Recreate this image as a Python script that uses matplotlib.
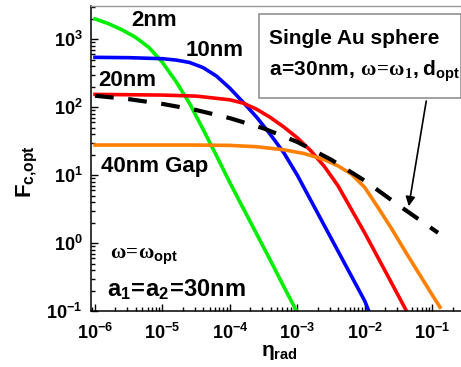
import numpy as np
import matplotlib
matplotlib.use('Agg')
import matplotlib.pyplot as plt
from matplotlib.patches import Rectangle, FancyArrowPatch
from matplotlib.ticker import FixedLocator, FixedFormatter, LogLocator, NullFormatter

plt.rcParams['font.family'] = 'Liberation Sans'
plt.rcParams['font.weight'] = 'bold'
plt.rcParams['mathtext.fontset'] = 'custom'
plt.rcParams['mathtext.rm'] = 'Liberation Sans:bold'
plt.rcParams['mathtext.bf'] = 'Liberation Sans:bold'
plt.rcParams['mathtext.it'] = 'Liberation Serif'
plt.rcParams['mathtext.sf'] = 'Liberation Serif'

# curves, as log10(eta_rad) and log10(F_c,opt)
log_eta_2nm = [-6.0, -5.8, -5.6, -5.4, -5.2, -5.0, -4.8, -4.6, -4.4, -4.2, -4.0, -3.8, -3.6, -3.4, -3.2, -3.01]
log_F_2nm = [3.30, 3.23, 3.14, 3.03, 2.88, 2.66, 2.38, 2.06, 1.68, 1.29, 0.89, 0.51, 0.13, -0.25, -0.64, -1.0]

log_eta_10nm = [-6.0, -5.5, -5.0, -4.8, -4.6, -4.4, -4.2, -4.0, -3.8, -3.6, -3.4, -3.2, -3.0, -2.8,
                -2.6, -2.4, -2.2, -2.0, -1.94]
log_F_10nm = [2.735, 2.73, 2.715, 2.695, 2.66, 2.585, 2.46, 2.28, 2.07, 1.85, 1.60, 1.33, 1.00, 0.63,
              0.26, -0.11, -0.48, -0.85, -1.0]

log_eta_20nm = [-6.0, -5.0, -4.5, -4.0, -3.8, -3.6, -3.4, -3.2, -3.0, -2.8, -2.6, -2.4, -2.2, -2.0,
                -1.8, -1.6, -1.38]
log_F_20nm = [2.19, 2.18, 2.165, 2.11, 2.06, 1.97, 1.85, 1.71, 1.55, 1.36, 1.13, 0.85, 0.50, 0.15,
              -0.22, -0.59, -1.0]

log_eta_40nm = [-6.0, -4.5, -4.0, -3.6, -3.2, -2.9, -2.6, -2.4, -2.2, -2.0, -1.8, -1.6, -1.4, -1.2,
                -1.0, -0.885]
log_F_40nm = [1.445, 1.445, 1.44, 1.42, 1.375, 1.32, 1.23, 1.14, 1.02, 0.82, 0.52, 0.21, -0.12, -0.44,
              -0.76, -0.94]

log_eta_single = [-6.0, -5.5, -5.0, -4.5, -4.0, -3.5, -3.0, -2.5, -2.0, -1.5, -0.915]
log_F_single = [2.17, 2.12, 2.05, 1.96, 1.84, 1.69, 1.49, 1.23, 0.92, 0.56, 0.155]

x_ticks = [1e-6, 1e-5, 1e-4, 1e-3, 1e-2, 1e-1]
x_labels = [r'$\mathrm{10^{-6}}$', r'$\mathrm{10^{-5}}$', r'$\mathrm{10^{-4}}$',
            r'$\mathrm{10^{-3}}$', r'$\mathrm{10^{-2}}$', r'$\mathrm{10^{-1}}$']
y_ticks = [1e-1, 1e0, 1e1, 1e2, 1e3]
y_labels = [r'$\mathrm{10^{-1}}$', r'$\mathrm{10^{0}}$', r'$\mathrm{10^{1}}$',
            r'$\mathrm{10^{2}}$', r'$\mathrm{10^{3}}$']

W, H = 461, 367
fig = plt.figure(figsize=(W / 100, H / 100), dpi=100)
ax = fig.add_axes([90.7 / W, 55.7 / H, 375.3 / W, 305.3 / H])


def px(x, y):
    return x / W, 1 - y / H


lw = 2.6
ax.plot(np.power(10.0, log_eta_2nm), np.power(10.0, log_F_2nm), color='#00ee00', lw=lw)
ax.plot(np.power(10.0, log_eta_10nm), np.power(10.0, log_F_10nm), color='#0000ff', lw=lw)
ax.plot(np.power(10.0, log_eta_20nm), np.power(10.0, log_F_20nm), color='#ff0000', lw=lw)
ax.plot(np.power(10.0, log_eta_40nm), np.power(10.0, log_F_40nm), color='#ff8000', lw=lw)
ax.plot(np.power(10.0, log_eta_single), np.power(10.0, log_F_single), color='black',
        lw=3.0, dashes=(4.5, 3.5))

ax.set_xscale('log')
ax.set_yscale('log')
ax.set_xlim(10 ** -6.064, 10 ** -0.5)
ax.set_ylim(0.1, 10 ** 3.49)

ax.xaxis.set_major_locator(FixedLocator(x_ticks))
ax.xaxis.set_major_formatter(FixedFormatter(x_labels))
ax.yaxis.set_major_locator(FixedLocator(y_ticks))
ax.yaxis.set_major_formatter(FixedFormatter(y_labels))
ax.xaxis.set_minor_locator(LogLocator(base=10, subs=np.arange(2, 10), numticks=20))
ax.yaxis.set_minor_locator(LogLocator(base=10, subs=np.arange(2, 10), numticks=20))
ax.xaxis.set_minor_formatter(NullFormatter())
ax.yaxis.set_minor_formatter(NullFormatter())
ax.tick_params(which='both', direction='in', top=False, right=False, width=1.0, labelsize=13)
ax.tick_params(which='major', length=5)
ax.tick_params(axis='x', which='major', pad=8)
ax.tick_params(axis='y', which='major', pad=6)
ax.tick_params(which='minor', length=3)
ax.spines['right'].set_visible(False)
for s in ['left', 'bottom']:
    ax.spines[s].set_linewidth(1.1)
ax.spines['top'].set_linewidth(1.0)
ax.spines['top'].set_color('#999999')

fig.text(*px(279, 352), r'$\mathrm{\eta}_{\mathrm{rad}}$', ha='center', va='center', fontsize=15)
fig.text(*px(27, 172), r'$\mathrm{F_{c{,}opt}}$', ha='center', va='center', fontsize=16, rotation=90)

fig.text(*px(154, 21), '2nm', ha='center', va='center', fontsize=16)
fig.text(*px(215, 51), '10nm', ha='center', va='center', fontsize=16)
fig.text(*px(127, 80), '20nm', ha='center', va='center', fontsize=16)
fig.text(*px(155, 167), '40nm Gap', ha='center', va='center', fontsize=16)
fig.text(*px(110, 257), r'$\mathsf{\omega\!=\!\omega}_{\mathrm{opt}}$', ha='left', va='center',
         fontsize=15)
fig.text(*px(107, 290), r'$\mathrm{a_{1}\!=\!a_{2}\!=\!30nm}$', ha='left', va='center', fontsize=17)

fig.patches.append(Rectangle(px(259.3, 98.3), (460.7 - 259.3) / W, (98.3 - 14.3) / H,
                             transform=fig.transFigure, facecolor='white',
                             edgecolor='#888888', lw=1.1))
fig.text(*px(269, 39), 'Single Au sphere', ha='left', va='center', fontsize=15)
fig.text(*px(269, 71),
         r'$\mathrm{a\!=\!30nm,}\,\mathsf{\omega\!=\!\omega_{1}}\mathrm{,}\;\mathrm{d_{opt}}$',
         ha='left', va='center', fontsize=15)

fig.patches.append(FancyArrowPatch(px(426.7, 98.3), px(408.3, 209), transform=fig.transFigure,
                                   arrowstyle='-|>', mutation_scale=14, color='black', lw=1.2))

fig.savefig('out.png', dpi=100)
